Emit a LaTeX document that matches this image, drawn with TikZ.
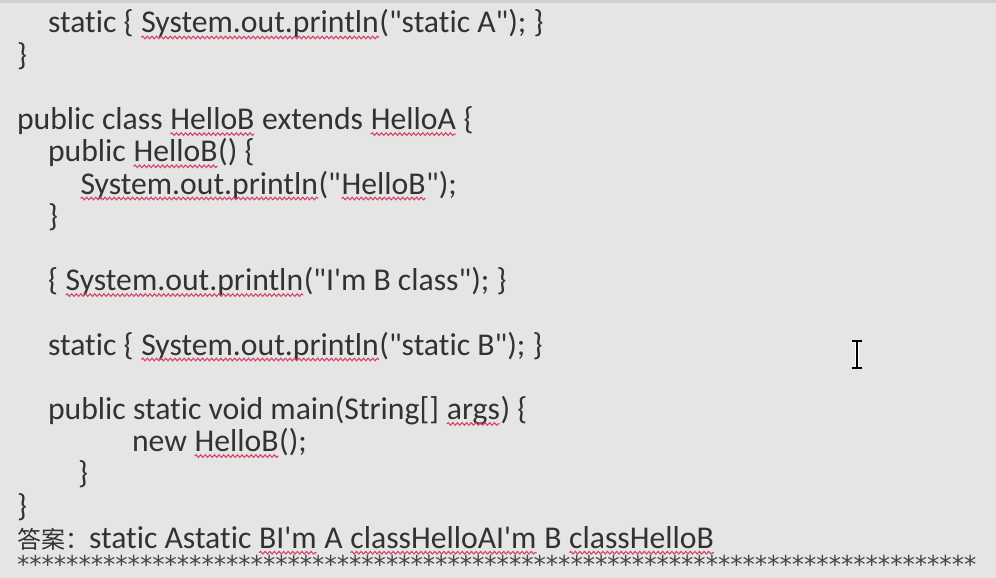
\documentclass[tikz,border=0pt]{standalone}
\usepackage{fontspec}
\setmainfont{Carlito}[Ligatures={TeXOff,NoCommon}]
\newfontfamily\cjk{Noto Sans CJK SC}
\newfontfamily\starfont{DejaVu Sans}
\usetikzlibrary{decorations.pathmorphing}

\definecolor{pagebg}{RGB}{229,229,229}
\definecolor{edgebg}{RGB}{208,208,208}
\definecolor{inkgray}{RGB}{50,50,50}
\definecolor{spellred}{RGB}{214,70,100}

\tikzset{squig/.style={draw=spellred, line width=1.1pt, decorate,
  decoration={snake, amplitude=1.3pt, segment length=4.6pt}}}
% red wavy underline of a misspelt word
\newcommand{\wv}[1]{\tikz[baseline=(wv.base)]{\node[inner sep=0pt, outer sep=0pt, anchor=base] (wv) {#1};
  \draw[squig] ([yshift=-4.5pt]wv.base west) -- ([yshift=-4.5pt]wv.base east);}}

\begin{document}
\begin{tikzpicture}[
  x=1pt, y=-1pt,
  code/.style={anchor=base west, inner sep=0pt, outer sep=0pt, text=inkgray,
    font=\fontsize{31.7pt}{32pt}\selectfont},
  cursor/.style={line width=1.8pt, black}
]
\useasboundingbox (0,0) rectangle (996,578);
\fill[pagebg] (0,0) rectangle (996,578);
\fill[edgebg] (0,0) rectangle (996,3);

% Code lines
\node[code] (staticA) at (48,33) {static \{ \wv{System.out.println}("static A"); \}};
\node[code] (closeA) at (17,65.2) {\}};
\node[code] (classB) at (17,129.6) {public class \wv{HelloB} extends \wv{HelloA} \{};
\node[code] (ctorB) at (48,161.8) {public \wv{HelloB}() \{};
\node[code] (printB) at (80,194) {\wv{System.out.println}("\wv{HelloB}");};
\node[code] (closeCtor) at (48,226.2) {\}};
\node[code] (initB) at (48,290.6) {\{ \wv{System.out.println}("I'm B class"); \}};
\node[code] (staticB) at (48,355) {static \{ \wv{System.out.println}("static B"); \}};
\node[code] (mainB) at (48,419.4) {public static void main(String[] \wv{args}) \{};
\node[code] (newB) at (132,451.6) {new \wv{HelloB}();};
\node[code] (closeMain) at (78,483.8) {\}};
\node[code] (closeB) at (17,516) {\}};

% Answer and separator
\node[code] (answer) at (17,548.2) {{\cjk\fontsize{24pt}{28pt}\selectfont 答案：}static Astatic \wv{BI'm} A \wv{classHelloAI'm} B \wv{classHelloB}};
\node[code, text=inkgray!90, font=\starfont\fontsize{24.6pt}{28pt}\selectfont] (stars) at (17,573)
  {******************************************************************************};

% Text cursor
\draw[white, line width=4pt] (857,341) -- (857,368);
\draw[cursor] (857,341) -- (857,368);
\draw[cursor, line width=1.4pt] (852,341) -- (862,341);
\draw[cursor, line width=1.4pt] (852,368) -- (862,368);

\end{tikzpicture}
\end{document}
